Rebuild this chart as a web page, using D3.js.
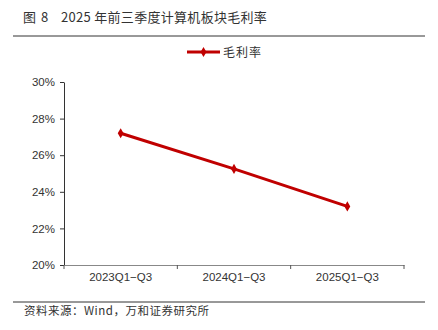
<!DOCTYPE html>
<html><head><meta charset="utf-8">
<script src="https://cdn.jsdelivr.net/npm/d3@7"></script>
<style>body{margin:0;background:#fff}svg{display:block}</style>
</head><body>
<svg id="c" width="438" height="330"></svg>
<script>
const categories = ["2023Q1−Q3", "2024Q1−Q3", "2025Q1−Q3"];
const grossMargin = [27.2, 25.25, 23.2];
const yTicks = [20, 22, 24, 26, 28, 30];
const seriesName = "毛利率";
const titleLabel = "图 8";
const titleText = "2025 年前三季度计算机板块毛利率";
const sourceText = "资料来源：Wind，万和证券研究所";

const svg = d3.select("#c");
const cjk = "'Noto Sans CJK SC', sans-serif";
const lat = "'Liberation Sans', Arial, sans-serif";
const red = "#C00000";

svg.append("text").attr("x", 23).attr("y", 22).attr("font-family", cjk).attr("font-size", 13)
  .attr("fill", "#333").attr("letter-spacing", 1).text(titleLabel);
svg.append("text").attr("x", 61).attr("y", 22).attr("font-family", cjk).attr("font-size", 13)
  .attr("fill", "#333").attr("letter-spacing", 0.3).text(titleText);
svg.append("line").attr("x1", 13).attr("x2", 425).attr("y1", 36).attr("y2", 36).attr("stroke", "#333").attr("stroke-width", 1);

const x = d3.scaleBand().domain(categories).range([64, 404]);
const y = d3.scaleLinear().domain([20, 30]).range([265, 82]);

const gy = svg.append("g").attr("transform", "translate(64,0)")
  .call(d3.axisLeft(y).tickValues(yTicks).tickFormat(d => d + "%").tickSize(4).tickSizeOuter(0));
gy.select(".domain").attr("stroke", "#333");
gy.selectAll(".tick line").attr("stroke", "#333");
gy.selectAll(".tick text").attr("font-family", lat).attr("font-size", 11.5).attr("fill", "#333").attr("x", -9);

const gx = svg.append("g").attr("transform", "translate(0,265)")
  .call(d3.axisBottom(x).tickSize(0).tickSizeOuter(0));
gx.select(".domain").attr("stroke", "#888");
gx.selectAll(".tick text").attr("font-family", lat).attr("font-size", 11.5).attr("fill", "#333").attr("dy", "1.15em");
const bounds = categories.map(c => x(c)).concat([x.range()[1]]);
gx.selectAll(".bt").data(bounds).enter().append("line")
  .attr("x1", d => d).attr("x2", d => d).attr("y1", 0).attr("y2", 4).attr("stroke", "#555");

const line = d3.line().x((d, i) => x(categories[i]) + x.bandwidth() / 2).y(d => y(d));
svg.append("path").datum(grossMargin).attr("d", line).attr("fill", "none").attr("stroke", red).attr("stroke-width", 3);
svg.selectAll(".pt").data(grossMargin).enter().append("path")
  .attr("d", d3.symbol(d3.symbolDiamond, 30))
  .attr("transform", (d, i) => `translate(${x(categories[i]) + x.bandwidth() / 2},${y(d)})`)
  .attr("fill", red);

// legend
svg.append("line").attr("x1", 187).attr("x2", 220).attr("y1", 52).attr("y2", 52).attr("stroke", red).attr("stroke-width", 3);
svg.append("path").attr("d", d3.symbol(d3.symbolDiamond, 30)).attr("transform", "translate(203.5,52)").attr("fill", red);
svg.append("text").attr("x", 223).attr("y", 56.5).attr("font-family", cjk).attr("font-size", 12).attr("fill", "#333").attr("letter-spacing", 1).text(seriesName);

svg.append("line").attr("x1", 13).attr("x2", 425).attr("y1", 302).attr("y2", 302).attr("stroke", "#333").attr("stroke-width", 1);
svg.append("text").attr("x", 24).attr("y", 314.5).attr("font-family", cjk).attr("font-size", 11.5).attr("fill", "#333").attr("letter-spacing", 0.5).text(sourceText);
</script>
</body></html>
